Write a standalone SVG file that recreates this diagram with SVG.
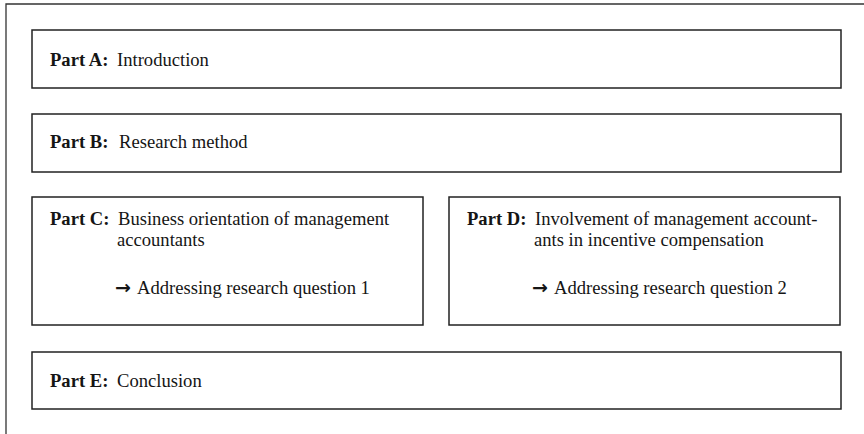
<svg xmlns="http://www.w3.org/2000/svg" width="864" height="434" viewBox="0 0 864 434">
<style>
.box{fill:#fff;stroke:#222;stroke-width:1.5}
.frame{fill:none;stroke:#333;stroke-width:1.3}
text{font-family:"Liberation Serif","Times New Roman",serif;font-size:18.6px;fill:#151515}
.b{font-weight:bold}
.arr{font-family:"DejaVu Sans","Liberation Sans",sans-serif;font-size:19px;font-weight:bold}
</style>
<rect width="864" height="434" fill="#fff"/>
<g id="frame"><path class="frame" d="M6 434 V4 H864"/></g>
<g id="connectors"></g>
<g id="partA">
<rect class="box" x="32" y="30" width="809" height="58"/>
<text x="50" y="66" class="b">Part A:</text>
<text x="117" y="66">Introduction</text>
</g>
<g id="partB">
<rect class="box" x="32" y="114" width="809" height="58"/>
<text x="50" y="148" class="b">Part B:</text>
<text x="119" y="148">Research method</text>
</g>
<g id="partC">
<rect class="box" x="32" y="197" width="391" height="128"/>
<text x="50" y="225" class="b">Part C:</text>
<text x="118" y="225">Business orientation of management</text>
<text x="117" y="246">accountants</text>
<text x="115" y="294"><tspan class="arr">→</tspan><tspan x="137">Addressing research question 1</tspan></text>
</g>
<g id="partD">
<rect class="box" x="449" y="197" width="391" height="128"/>
<text x="467" y="225" class="b">Part D:</text>
<text x="535" y="225">Involvement of management account-</text>
<text x="534" y="246">ants in incentive compensation</text>
<text x="532" y="294"><tspan class="arr">→</tspan><tspan x="554">Addressing research question 2</tspan></text>
</g>
<g id="partE">
<rect class="box" x="32" y="352" width="809" height="57"/>
<text x="50" y="387" class="b">Part E:</text>
<text x="117" y="387">Conclusion</text>
</g>
</svg>
